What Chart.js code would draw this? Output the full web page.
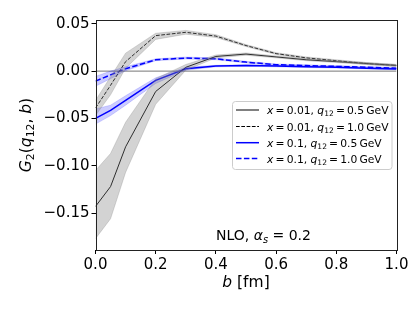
<!DOCTYPE html>
<html><head><meta charset="utf-8">
<script src="https://cdn.jsdelivr.net/npm/chart.js@4/dist/chart.umd.min.js"></script>
<style>html,body{margin:0;padding:0;background:#fff}canvas{display:block}</style>
</head><body>
<canvas id="c" width="415" height="311"></canvas>
<script>
// ---- data ----
const bValues = [0, 0.05, 0.1, 0.2, 0.3, 0.4, 0.5, 0.6, 0.7, 0.8, 0.9, 1.0];

const g_x001_q05    = [-0.143, -0.122, -0.080, -0.0215, 0.004, 0.0155, 0.018, 0.015, 0.012, 0.010, 0.008, 0.006];
const g_x001_q05_lo = [-0.177, -0.156, -0.107, -0.035, 0.001, 0.014, 0.0168, 0.014, 0.011, 0.009, 0.007, 0.005];
const g_x001_q05_hi = [-0.105, -0.087, -0.054, -0.008, 0.007, 0.017, 0.0192, 0.016, 0.013, 0.011, 0.009, 0.007];

const g_x001_q10    = [-0.039, -0.015, 0.010, 0.0375, 0.041, 0.037, 0.027, 0.0185, 0.014, 0.011, 0.008, 0.006];
const g_x001_q10_lo = [-0.047, -0.025, 0.003, 0.0335, 0.039, 0.0355, 0.026, 0.0175, 0.013, 0.010, 0.007, 0.005];
const g_x001_q10_hi = [-0.031, -0.006, 0.019, 0.040, 0.043, 0.0385, 0.028, 0.0195, 0.015, 0.012, 0.009, 0.007];

const g_x01_q05     = [-0.050, -0.0415, -0.031, -0.0098, 0.0025, 0.0053, 0.006, 0.0053, 0.0045, 0.004, 0.003, 0.0022];
const g_x01_q05_lo  = [-0.056, -0.047, -0.036, -0.013, 0.001, 0.0045, 0.0052, 0.0045, 0.0037, 0.0032, 0.0022, 0.0015];
const g_x01_q05_hi  = [-0.040, -0.036, -0.026, -0.007, 0.004, 0.0061, 0.0068, 0.0061, 0.0053, 0.0048, 0.0038, 0.003];

const g_x01_q10     = [-0.0106, -0.004, 0.0025, 0.012, 0.0138, 0.013, 0.0095, 0.0068, 0.0058, 0.005, 0.004, 0.003];
const g_x01_q10_lo  = [-0.016, -0.008, 0.0005, 0.011, 0.0128, 0.012, 0.0087, 0.006, 0.005, 0.0042, 0.0032, 0.0022];
const g_x01_q10_hi  = [-0.0056, 0.000, 0.0045, 0.013, 0.0148, 0.014, 0.0103, 0.0076, 0.0066, 0.0058, 0.0048, 0.0038];

const zeroLineY = [0, 0];
const zeroLineB = [0, 1];

const xTicks = [0, 0.2, 0.4, 0.6, 0.8, 1.0];
const yTicks = [-0.15, -0.10, -0.05, 0.00, 0.05];
const xRange = [0, 1];
const yRange = [-0.189, 0.054];

const T = '\u2009';
const legendLabels = [
  [{t:'x',it:1},{t:T+'='+T+'0.01, '},{t:'q',it:1},{t:'12',sub:1},{t:T+'='+T+'0.5'+T+'GeV'}],
  [{t:'x',it:1},{t:T+'='+T+'0.01, '},{t:'q',it:1},{t:'12',sub:1},{t:T+'='+T+'1.0'+T+'GeV'}],
  [{t:'x',it:1},{t:T+'='+T+'0.1, '},{t:'q',it:1},{t:'12',sub:1},{t:T+'='+T+'0.5'+T+'GeV'}],
  [{t:'x',it:1},{t:T+'='+T+'0.1, '},{t:'q',it:1},{t:'12',sub:1},{t:T+'='+T+'1.0'+T+'GeV'}]
];
const yTitle = [{t:'G',it:1},{t:'2',sub:1},{t:'('},{t:'q',it:1},{t:'12',sub:1},{t:', '},{t:'b',it:1},{t:')'}];
const xTitle = [{t:'b',it:1},{t:' [fm]'}];
const noteText = [{t:'NLO, '},{t:'α',it:1},{t:'s',it:1,sub:1},{t:' = 0.2'}];

// ---- helpers ----
const FONT = '"DejaVu Sans"';
const pts = (ys) => ys.map((y, i) => ({x: bValues[i], y}));
function segFont(s, size){ const fs = s.sub ? size*0.7 : size; return (s.it?'italic ':'') + fs.toFixed(2) + 'px ' + FONT; }
function measureRich(ctx, segs, size){ let w=0; for(const s of segs){ ctx.font=segFont(s,size); w+=ctx.measureText(s.t).width; } return w; }
function drawRich(ctx, segs, x, y, size){
  let cx = x; ctx.textBaseline='alphabetic'; ctx.textAlign='left';
  for(const s of segs){ ctx.font=segFont(s,size); ctx.fillText(s.t, cx, y + (s.sub ? size*0.22 : 0)); cx += ctx.measureText(s.t).width; }
}

const grayBand = 'rgba(128,128,128,0.35)';
const grayEdge = 'rgba(128,128,128,0.35)';
const blueBand = 'rgba(0,0,255,0.2)';
const blueEdge = 'rgba(0,0,255,0.2)';

function band(lo, hi, fillC, edgeC){
  return [
    {data: pts(lo), borderColor: edgeC, borderWidth: 0.8, pointRadius: 0, fill: false},
    {data: pts(hi), borderColor: edgeC, borderWidth: 0.8, pointRadius: 0, fill: '-1', backgroundColor: fillC}
  ];
}

const lineStyles = [
  {color:'#000000', width:1, dash:[]},
  {color:'#000000', width:1, dash:[3.7,1.6]},
  {color:'#0000ff', width:1.5, dash:[]},
  {color:'#0000ff', width:1.5, dash:[5.5,2.4]}
];
const legendHandles = [
  {color:'#808080', width:2, dash:[]},
  {color:'#000000', width:1, dash:[3.7,1.6]},
  {color:'#0000ff', width:1.5, dash:[]},
  {color:'#0000ff', width:1.5, dash:[5.5,2.4]}
];

const datasets = [
  ...band(g_x001_q05_lo, g_x001_q05_hi, grayBand, grayEdge),
  ...band(g_x001_q10_lo, g_x001_q10_hi, grayBand, grayEdge),
  ...band(g_x01_q05_lo, g_x01_q05_hi, blueBand, blueEdge),
  ...band(g_x01_q10_lo, g_x01_q10_hi, blueBand, blueEdge),
  {data: zeroLineB.map((x,i)=>({x, y: zeroLineY[i]})), borderColor:'#777777', borderWidth:1, pointRadius:0, fill:false},
  ...[g_x001_q05, g_x001_q10, g_x01_q05, g_x01_q10].map((d, i) => ({
    data: pts(d), borderColor: lineStyles[i].color, borderWidth: lineStyles[i].width,
    borderDash: lineStyles[i].dash, pointRadius: 0, fill: false
  }))
];

const decor = {
  id: 'decor',
  afterDraw(chart){
    const ctx = chart.ctx, a = chart.chartArea;
    ctx.save();
    // frame
    ctx.strokeStyle = '#222'; ctx.lineWidth = 1;
    ctx.strokeRect(Math.round(a.left)+0.5, Math.round(a.top)+0.5, Math.round(a.right-a.left), Math.round(a.bottom-a.top));
    ctx.fillStyle = '#000';
    // x title
    const xw = measureRich(ctx, xTitle, 15.5);
    drawRich(ctx, xTitle, (a.left+a.right)/2 - xw/2, 287, 15.5);
    // y title
    ctx.save();
    ctx.translate(31, (a.top+a.bottom)/2);
    ctx.rotate(-Math.PI/2);
    const yw = measureRich(ctx, yTitle, 15.5);
    drawRich(ctx, yTitle, -yw/2, 0, 15.5);
    ctx.restore();
    // note
    drawRich(ctx, noteText, 216, 239.5, 14);
    // legend
    const lx = 232, ly = 101, lw = 159.5, lh = 68;
    ctx.beginPath();
    ctx.roundRect(lx+0.5, ly+0.5, lw, lh, 3);
    ctx.fillStyle = 'rgba(255,255,255,0.8)'; ctx.fill();
    ctx.strokeStyle = '#cccccc'; ctx.lineWidth = 1; ctx.stroke();
    // size the legend text so the longest entry spans the reference width
    let fs = 11;
    const wMax = Math.max(...legendLabels.map(l => measureRich(ctx, l, fs)));
    fs = fs * 121.5 / wMax;
    const rows = [110, 126.5, 142.7, 158.5];
    rows.forEach((ry, i) => {
      const st = legendHandles[i];
      ctx.beginPath(); ctx.setLineDash(st.dash); ctx.strokeStyle = st.color; ctx.lineWidth = st.width;
      ctx.moveTo(236, ry); ctx.lineTo(259, ry); ctx.stroke();
      ctx.setLineDash([]);
      ctx.fillStyle = '#000';
      drawRich(ctx, legendLabels[i], 267, ry + 4, fs);
    });
    ctx.restore();
  }
};

new Chart(document.getElementById('c'), {
  type: 'line',
  data: { datasets },
  options: {
    responsive: false, animation: false,
    layout: { padding: { left: 0, right: 18.5, top: 20, bottom: 0 } },
    plugins: { legend: {display:false}, tooltip: {enabled:false} },
    scales: {
      x: {
        type: 'linear', min: xRange[0], max: xRange[1],
        afterBuildTicks: s => { s.ticks = xTicks.map(v => ({value: v})); },
        afterFit: s => { s.height = 61; },
        grid: { drawOnChartArea: false, drawTicks: true, tickLength: 4, color: '#000' },
        border: { display: false },
        ticks: { color: '#000', padding: 2, maxRotation: 0, autoSkip: false,
          font: { family: 'DejaVu Sans', size: 15 }, callback: v => Number(v).toFixed(1) }
      },
      y: {
        type: 'linear', min: yRange[0], max: yRange[1],
        afterBuildTicks: s => { s.ticks = yTicks.map(v => ({value: v})); },
        afterFit: s => { s.width = 95.5; },
        grid: { drawOnChartArea: false, drawTicks: true, tickLength: 4, color: '#000' },
        border: { display: false },
        ticks: { color: '#000', padding: 2, autoSkip: false,
          font: { family: 'DejaVu Sans', size: 15 },
          callback: v => { const s = Math.abs(v).toFixed(2); return (v < -1e-9 ? '\u2212' : '') + s; } }
      }
    }
  },
  plugins: [decor]
});
</script>
</body></html>
